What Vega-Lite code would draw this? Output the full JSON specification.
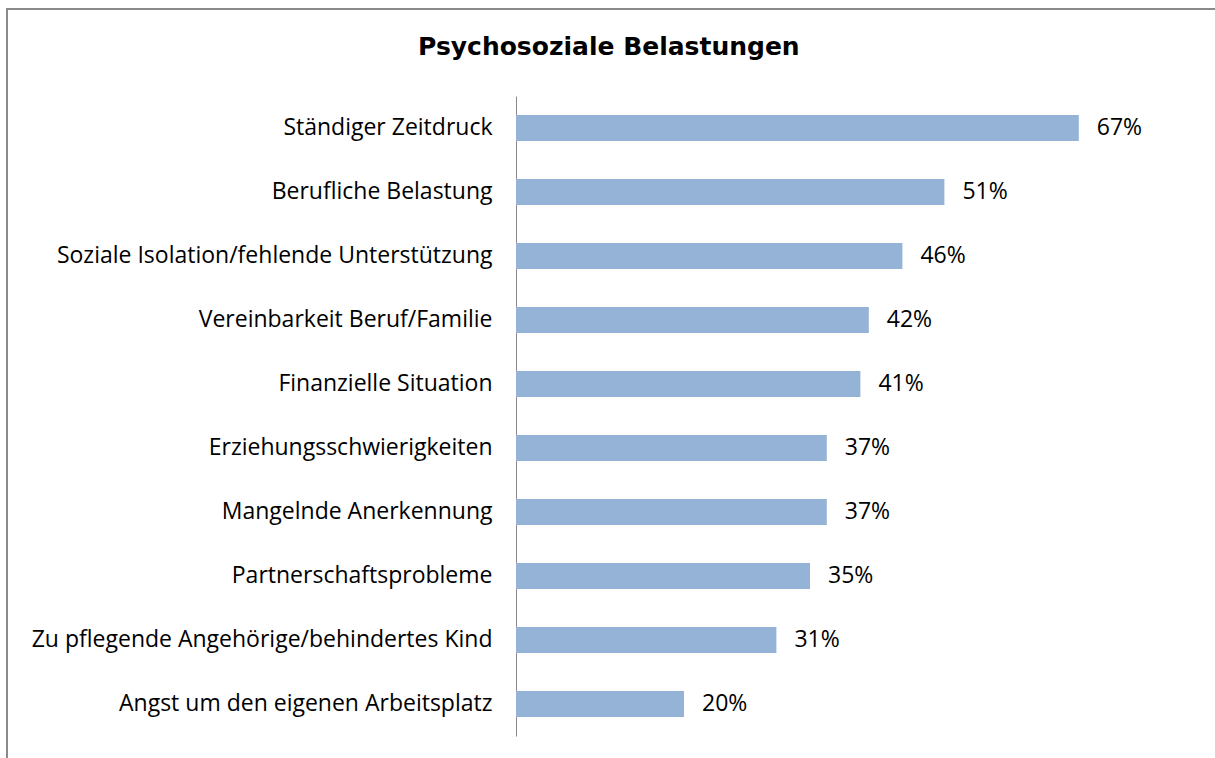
{
  "$schema": "https://vega.github.io/schema/vega-lite/v6.json",
  "autosize": {"type": "none"},
  "padding": {"left": 7, "top": 9, "right": -20, "bottom": -20},
  "width": 1228,
  "height": 769,
  "background": "white",
  "config": {
    "view": {"stroke": "#8a8a8a", "strokeWidth": 2},
    "font": "Open Sans"
  },
  "title": {
    "text": "Psychosoziale Belastungen",
    "font": "DejaVu Sans",
    "fontSize": 25,
    "fontWeight": "bold",
    "color": "black",
    "anchor": "start",
    "baseline": "alphabetic",
    "offset": 0,
    "dx": 411,
    "dy": 71
  },
  "data": {
    "values": [
      {"kategorie": "Ständiger Zeitdruck", "anteil": 0.67},
      {"kategorie": "Berufliche Belastung", "anteil": 0.51},
      {"kategorie": "Soziale Isolation/fehlende Unterstützung", "anteil": 0.46},
      {"kategorie": "Vereinbarkeit Beruf/Familie", "anteil": 0.42},
      {"kategorie": "Finanzielle Situation", "anteil": 0.41},
      {"kategorie": "Erziehungsschwierigkeiten", "anteil": 0.37},
      {"kategorie": "Mangelnde Anerkennung", "anteil": 0.37},
      {"kategorie": "Partnerschaftsprobleme", "anteil": 0.35},
      {"kategorie": "Zu pflegende Angehörige/behindertes Kind", "anteil": 0.31},
      {"kategorie": "Angst um den eigenen Arbeitsplatz", "anteil": 0.20}
    ]
  },
  "encoding": {
    "y": {
      "field": "kategorie",
      "type": "nominal",
      "sort": ["Ständiger Zeitdruck", "Berufliche Belastung", "Soziale Isolation/fehlende Unterstützung", "Vereinbarkeit Beruf/Familie", "Finanzielle Situation", "Erziehungsschwierigkeiten", "Mangelnde Anerkennung", "Partnerschaftsprobleme", "Zu pflegende Angehörige/behindertes Kind", "Angst um den eigenen Arbeitsplatz"],
      "scale": {"range": [87, 727], "paddingInner": 0.59, "paddingOuter": 0.295},
      "axis": {
        "title": null,
        "orient": "left",
        "offset": -509,
        "ticks": false,
        "grid": false,
        "domainColor": "#8a8a8a",
        "domainWidth": 1,
        "labelFont": "Open Sans",
        "labelFontSize": 23,
        "labelColor": "black",
        "labelPadding": 24,
        "labelLimit": 0
      }
    },
    "x": {
      "field": "anteil",
      "type": "quantitative",
      "scale": {"domain": [0, 0.8], "range": [509, 1181]},
      "axis": null
    }
  },
  "layer": [
    {"mark": {"type": "bar", "color": "#95b3d7"}},
    {
      "mark": {"type": "text", "align": "left", "baseline": "middle", "dx": 18, "font": "Open Sans", "fontSize": 23, "color": "black"},
      "encoding": {"text": {"field": "anteil", "type": "quantitative", "format": ".0%"}}
    }
  ]
}
